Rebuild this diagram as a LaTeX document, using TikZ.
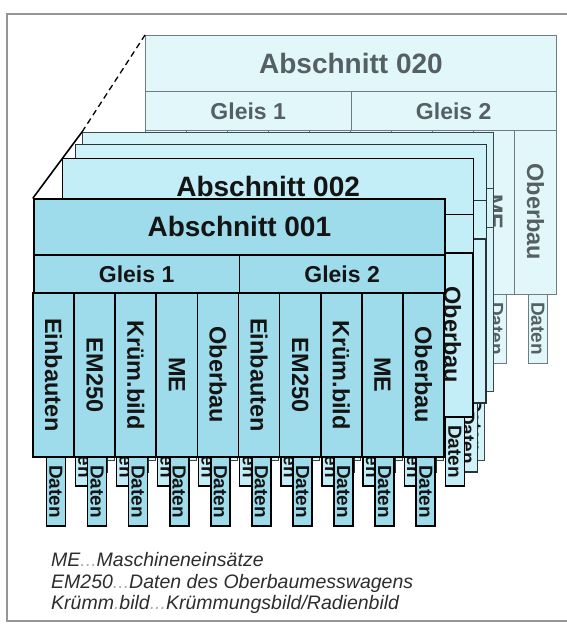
\documentclass[tikz,border=0pt]{standalone}
\usepackage{fontspec}
\setmainfont{Liberation Sans}
\definecolor{fillA}{RGB}{158,220,235}
\definecolor{fillB}{RGB}{196,238,247}
\definecolor{fillC}{RGB}{205,242,250}
\definecolor{fillD}{RGB}{212,244,250}
\definecolor{fillE}{RGB}{226,247,250}
\definecolor{lineC}{RGB}{40,50,55}
\definecolor{lineD}{RGB}{60,70,75}
\definecolor{lineE}{RGB}{110,125,130}
\definecolor{textE}{RGB}{85,95,100}
\definecolor{txtdark}{RGB}{20,20,20}
\definecolor{legtext}{RGB}{45,45,45}
\definecolor{legdots}{RGB}{175,175,175}
\definecolor{framecol}{RGB}{150,150,150}
\tikzset{
  hdr/.style={draw, rectangle, minimum width=411pt, minimum height=56pt, inner sep=0pt, anchor=north west, font=\bfseries\fontsize{28}{30}\selectfont},
  gls/.style={draw, rectangle, minimum width=205.5pt, minimum height=39pt, inner sep=0pt, anchor=north west, font=\bfseries\fontsize{23}{25}\selectfont},
  colbox/.style={draw, rectangle, rotate=-90, minimum width=164pt, minimum height=41.1pt, inner sep=0pt, font=\bfseries\fontsize{23.5}{25}\selectfont},
  datbox/.style={draw, rectangle, rotate=-90, minimum width=69pt, minimum height=19pt, inner sep=0pt, font=\bfseries\fontsize{19}{21}\selectfont},
  legend/.style={anchor=base west, inner sep=0pt, text=legtext, font=\itshape\fontsize{19.5}{22}\selectfont},
}
% #1 prefix, #2 dx, #3 dy, #4 fill, #5 line colour, #6 text colour, #7 line width, #8 section number
\newcommand{\drawlayer}[8]{%
  \begin{scope}[every node/.append style={fill=#4, draw=#5, text=#6, line width=#7}]
    \node[hdr] (#1h) at (#2+33,#3+198) {Abschnitt #8};
    \node[gls] (#1ga) at (#2+33,#3+254) {Gleis 1};
    \node[gls] (#1gb) at (#2+238.5,#3+254) {Gleis 2};
    \foreach \i/\lab in {1/Einbauten,2/EM250,3/Krüm.bild,4/ME,5/Oberbau,6/Einbauten,7/EM250,8/Krüm.bild,9/ME,10/Oberbau} {
      \node[colbox] (#1c\i) at ({#2+33+(\i-0.5)*41.1},{#3+375}) {\lab};
      \node[datbox] (#1d\i) at ({#2+33+(\i-0.5)*41.1+2.3},{#3+491.5}) {Daten};
    }
  \end{scope}}
\begin{document}
\begin{tikzpicture}[x=1pt,y=-1pt]
  \useasboundingbox (0,0) rectangle (567,624);
  % frame
  \draw[framecol, line width=1.3pt] (567,14) -- (7,14) -- (7,621) -- (567,621);
  % layers, back to front
  \drawlayer{sz}{112}{-163}{fillE}{lineE}{textE}{0.9pt}{020}
  \drawlayer{sa}{49}{-66}{fillD}{lineD}{txtdark}{1.0pt}{004}
  \drawlayer{sb}{42}{-54}{fillC}{lineC}{txtdark}{1.1pt}{003}
  \drawlayer{st}{29}{-40}{fillB}{black}{txtdark}{1.3pt}{002}
  \drawlayer{so}{0}{0}{fillA}{black}{txtdark}{1.7pt}{001}
  % perspective lines
  \draw[line width=1.6pt, line cap=round] (soh.north west) -- (sah.north west);
  \draw[line width=1.3pt, dash pattern=on 6pt off 4pt] (sah.north west) -- (szh.north west);
  % legend
  \node[legend] (leg1) at (51,566) {ME\textcolor{legdots}{...}Maschineneinsätze};
  \node[legend] (leg2) at (51,588) {EM250\textcolor{legdots}{...}Daten des Oberbaumesswagens};
  \node[legend] (leg3) at (51,609) {Krümm\textcolor{legdots}{.}bild\textcolor{legdots}{...}Krümmungsbild/Radienbild};
\end{tikzpicture}
\end{document}
